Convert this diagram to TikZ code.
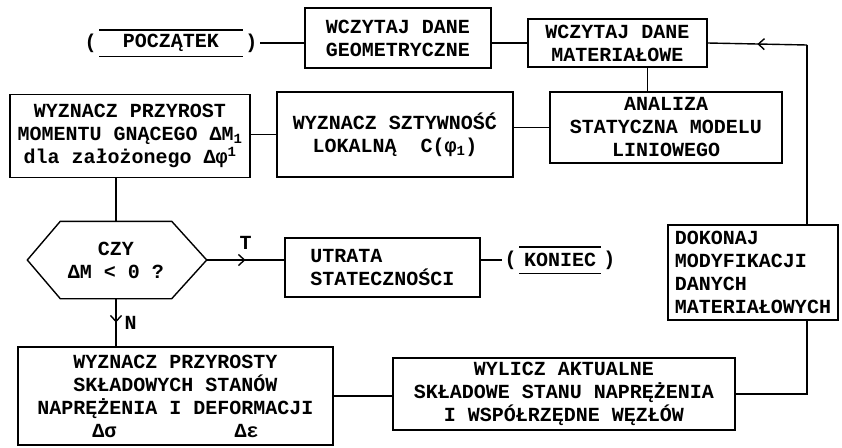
\documentclass[tikz,border=0pt]{standalone}
\usepackage{fontspec}
\setmonofont{Liberation Mono}
\usetikzlibrary{arrows.meta,positioning,decorations.markings}

\begin{document}
\begin{tikzpicture}[x=1pt,y=-1pt,line width=1.4pt,every node/.style={font=\ttfamily\bfseries\fontsize{20}{23}\selectfont,inner sep=2pt},
  blok/.style={draw,align=center},
  term/.style={minimum height=25},
  midarrow/.style={postaction={decorate},decoration={markings,mark=at position .5 with {\arrow[line width=1.4pt]{Straight Barb[length=6pt,width=11pt]}}}}]
\useasboundingbox (0,0) rectangle (842,447);
\node[term,minimum width=142] (start) at (171,43) {POCZĄTEK};
\node[left=0pt of start] (startl) {(};\node[right=0pt of start] (startr) {)};
\draw (start.north west) -- (start.north east) (start.south west) -- (start.south east);
\node[blok,minimum width=186,minimum height=60] (geom) at (398,38) {WCZYTAJ DANE\\GEOMETRYCZNE};
\node[blok,minimum width=179,minimum height=48] (mat) at (617.5,43) {WCZYTAJ DANE\\MATERIAŁOWE};
\node[blok,minimum width=232,minimum height=71] (ana) at (666,127.5) {ANALIZA\\STATYCZNA MODELU\\LINIOWEGO};
\node[blok,minimum width=236,minimum height=85] (sti) at (395,134.5) {WYZNACZ SZTYWNOŚĆ\\LOKALNĄ\ \ C(φ\textsubscript{1})};
\node[blok,minimum width=240,minimum height=83] (wyz) at (130,136) {WYZNACZ PRZYROST\\MOMENTU GNĄCEGO ΔM\textsubscript{1}\\dla założonego Δφ\textsuperscript{1}};
\node[align=center,minimum width=110,minimum height=76] (dec) at (116,260) {CZY\\ΔM < 0 ?};
\draw (dec.north west) -- (dec.north east) -- ([xshift=35pt]dec.east) -- (dec.south east) -- (dec.south west) -- ([xshift=-33pt]dec.west) -- cycle;
\coordinate (decr) at ([xshift=35pt]dec.east);
\node[blok,align=left,minimum width=195,minimum height=59] (utr) at (382.5,267.5) {UTRATA\\STATECZNOŚCI};
\node[term,minimum width=80] (kon) at (560,260) {KONIEC};
\node[left=0pt of kon] (konl) {(};\node[right=0pt of kon] (konr) {)};
\draw (kon.north west) -- (kon.north east) (kon.south west) -- (kon.south east);
\node[blok,align=left,minimum width=170,minimum height=95] (dok) at (753,272.5) {DOKONAJ\\MODYFIKACJI\\DANYCH\\MATERIAŁOWYCH};
\node[blok,minimum width=315,minimum height=98] (prz) at (175.5,396) {WYZNACZ PRZYROSTY\\SKŁADOWYCH STANÓW\\NAPRĘŻENIA I DEFORMACJI\\Δσ\hspace*{118pt}Δε};
\node[blok,minimum width=342,minimum height=72] (wyl) at (564,394) {WYLICZ AKTUALNE\\SKŁADOWE STANU NAPRĘŻENIA\\I WSPÓŁRZĘDNE WĘZŁÓW};
\coordinate (corner) at (807,45);
\draw (startr.east) -- (startr.east -| geom.west);
\draw (geom.east |- mat.west) -- (mat.west);
\draw ([xshift=30pt]mat.south) -- ([xshift=30pt]mat.south |- ana.north);
\draw (ana.west) -- (ana.west -| sti.east);
\draw (sti.west) -- (sti.west -| wyz.east);
\draw (wyz.south -| dec.north) -- (dec.north);
\draw[midarrow] (decr) -- node[above=8pt] (t) {T} (decr -| utr.west);
\draw (konl.west -| utr.east) -- (konl.west);
\draw[midarrow] (dec.south) -- node[right=6pt] (n) {N} (dec.south |- prz.north);
\draw (prz.east) -- (prz.east -| wyl.west);
\draw (wyl.east) -| (dok.south -| corner);
\draw (dok.north -| corner) -- (corner);
\draw[midarrow] (corner) -- (mat.east);
\end{tikzpicture}
\end{document}
